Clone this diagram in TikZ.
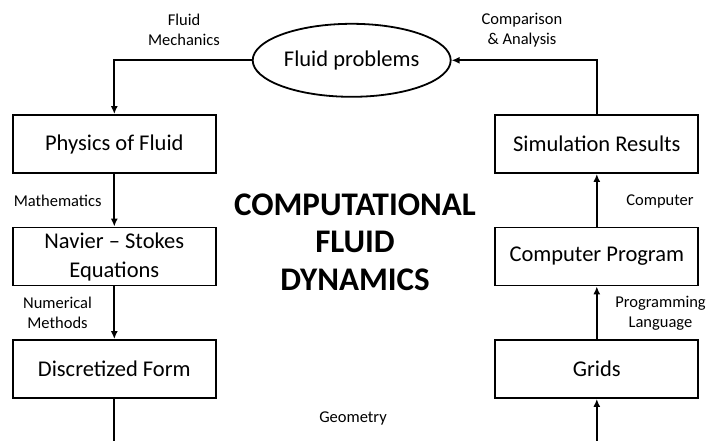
\documentclass[tikz,border=0pt]{standalone}
\usepackage{fontspec}
\setmainfont{Carlito}
\usetikzlibrary{arrows.meta,shapes.geometric}
\tikzset{
  box/.style={draw,line width=1.8pt,minimum width=203pt,minimum height=58pt,inner sep=0pt,align=center,font=\fontsize{22.5}{29}\selectfont},
  oval/.style={draw,ellipse,line width=1.8pt,minimum width=198pt,minimum height=73pt,inner sep=0pt,font=\fontsize{22.5}{28}\selectfont},
  lbl/.style={align=center,inner sep=0pt,font=\fontsize{16.5}{20.5}\selectfont},
  conn/.style={line width=1.8pt},
  arr/.style={line width=1.8pt,-{Latex[length=8pt,width=7pt]}},
  title/.style={align=center,inner sep=0pt,font=\fontsize{33}{37.5}\selectfont\bfseries}
}
\begin{document}
\begin{tikzpicture}[x=1pt,y=-1pt]
\useasboundingbox (0,0) rectangle (707,440);
\node[oval] (fp) at (351.7,60.3) {Fluid problems};
\node[box] (phys) at (114.3,144) {Physics of Fluid};
\node[box] (ns) at (114.3,256.5) {Navier -- Stokes\\Equations};
\node[box] (disc) at (114.3,369) {Discretized Form};
\node[box] (sim) at (596.8,144) {Simulation Results};
\node[box] (cp) at (596.8,256.5) {Computer Program};
\node[box] (grids) at (596.8,369) {Grids};
\node[title] (ttl) at (355,242) {COMPUTATIONAL\\FLUID\\DYNAMICS};
\node[lbl] (lfm) at (184,30) {Fluid\\Mechanics};
\node[lbl] (lca) at (522,30) {Comparison\\\& Analysis};
\node[lbl] (lmath) at (57.7,201) {Mathematics};
\node[lbl] (lcomp) at (660,201.5) {Computer};
\node[lbl] (lnum) at (57.5,313) {Numerical\\Methods};
\node[lbl] (lprog) at (660.5,313) {Programming\\Language};
\node[lbl] (lgeo) at (353,418) {Geometry};
\coordinate (bl) at (114.3,441);
\coordinate (br) at (596.8,441);
\draw[arr] (fp.west) -| (phys.north);
\draw[arr] (sim.north) |- (fp.east);
\draw[arr] (phys.south) -- (ns.north);
\draw[arr] (ns.south) -- (disc.north);
\draw[conn] (disc.south) -- (bl);
\draw[arr] (br) -- (grids.south);
\draw[arr] (grids.north) -- (cp.south);
\draw[arr] (cp.north) -- (sim.south);
\end{tikzpicture}
\end{document}
